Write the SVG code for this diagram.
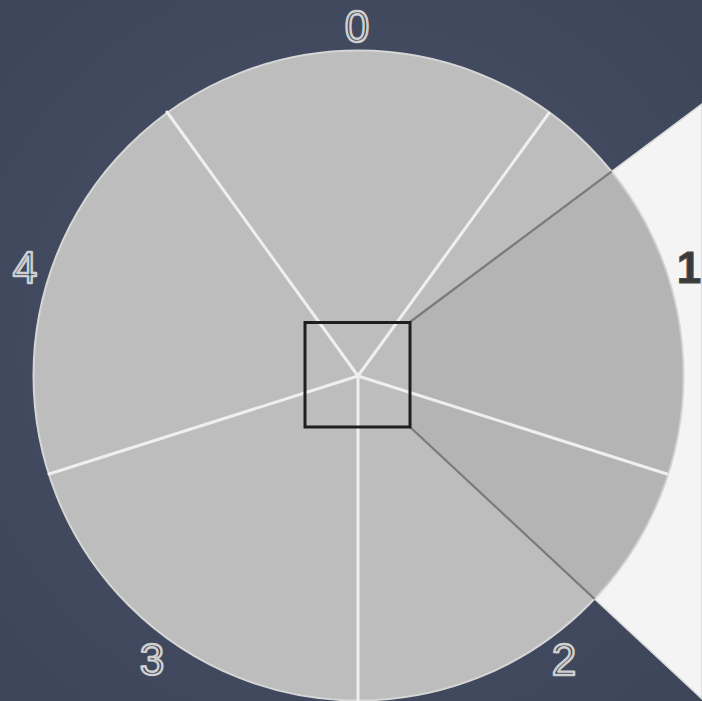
<svg xmlns="http://www.w3.org/2000/svg" width="702" height="701" viewBox="0 0 702 701">
  <defs>
    <style>
      .lbl { font-family: "Liberation Sans", Arial, sans-serif; font-size: 44px; text-anchor: middle; fill: #3a4152; stroke: #cfcfcf; stroke-width: 2.4; stroke-linejoin: round; }
      .lbl-dark { font-family: "Liberation Sans", Arial, sans-serif; font-size: 44px; font-weight: bold; text-anchor: middle; fill: #3a3a3a; stroke: #4a4a4a; stroke-width: 1; }
      .spoke { stroke: #efefef; stroke-width: 3; stroke-linecap: round; }
      .ray { stroke: #7a7a7a; stroke-width: 2.2; }
    </style>
    <clipPath id="disk">
      <circle cx="358.5" cy="375.5" r="325"/>
    </clipPath>
    <radialGradient id="bg" cx="50%" cy="50%" r="75%">
      <stop offset="0" stop-color="#48526a"/>
      <stop offset="1" stop-color="#3c4457"/>
    </radialGradient>
  </defs>

  <rect id="background" x="0" y="0" width="702" height="701" fill="url(#bg)"/>

  <g id="view-cone">
    <polygon points="410,322 702,104 702,699 410,427" fill="#f4f4f4" stroke="#d9d9d9" stroke-width="1.5"/>
  </g>

  <g id="disk-node">
    <circle cx="358.5" cy="375.5" r="325" fill="#bdbdbd" stroke="#d6d6d6" stroke-width="2"/>
  </g>

  <g id="cone-inside" clip-path="url(#disk)">
    <polygon points="410,322 702,104 702,699 410,427" fill="#000" fill-opacity="0.045"/>
  </g>

  <g id="connectors">
    <g clip-path="url(#disk)">
      <line class="ray" x1="410" y1="322" x2="702" y2="104"/>
      <line class="ray" x1="410" y1="427" x2="702" y2="699"/>
    </g>
    <line class="spoke" x1="358" y1="376" x2="167" y2="112"/>
    <line class="spoke" x1="358" y1="376" x2="549" y2="113"/>
    <line class="spoke" x1="358" y1="376" x2="667" y2="474"/>
    <line class="spoke" x1="358" y1="376" x2="358" y2="701"/>
    <line class="spoke" x1="358" y1="376" x2="49" y2="474"/>
  </g>

  <g id="camera-box">
    <rect x="305" y="322.5" width="105" height="104.5" fill="none" stroke="#1e1e1e" stroke-width="3"/>
  </g>

  <g id="labels">
    <text id="label-0" class="lbl" x="357" y="42">0</text>
    <text id="label-1" class="lbl-dark" x="689" y="283">1</text>
    <text id="label-2" class="lbl" x="564" y="675">2</text>
    <text id="label-3" class="lbl" x="152" y="675">3</text>
    <text id="label-4" class="lbl" x="25" y="283">4</text>
  </g>
</svg>
